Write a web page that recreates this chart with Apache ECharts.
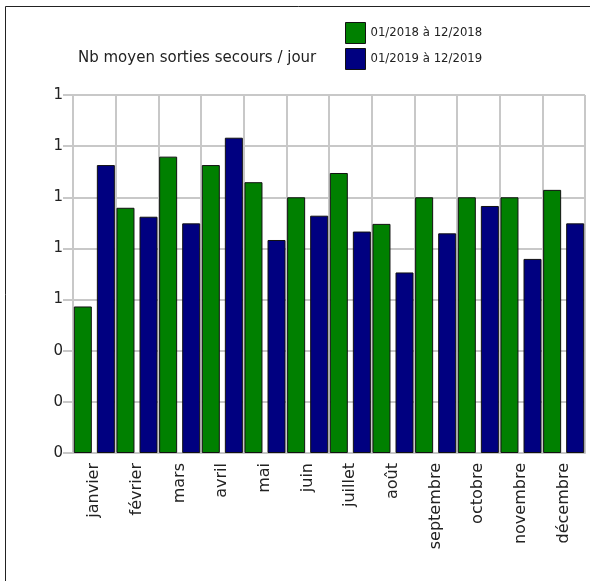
<!DOCTYPE html>
<html>
<head>
<meta charset="utf-8">
<script src="https://cdn.jsdelivr.net/npm/echarts@6/dist/echarts.min.js"></script>
<style>
  html, body { margin: 0; padding: 0; background: #fff; }
  #chart { width: 590px; height: 581px; }
</style>
</head>
<body>
<div id="chart"></div>
<script>
const months = ['janvier', 'février', 'mars', 'avril', 'mai', 'juin', 'juillet', 'août', 'septembre', 'octobre', 'novembre', 'décembre']
const serie2018 = [0.573, 0.959, 1.159, 1.126, 1.059, 1.0, 1.095, 0.896, 1.0, 1.0, 1.0, 1.029]
const serie2019 = [1.126, 0.924, 0.898, 1.233, 0.833, 0.928, 0.866, 0.706, 0.859, 0.966, 0.759, 0.898]
const legendNames = ['01/2018 à 12/2018', '01/2019 à 12/2019']
const yMin = 0
const yMax = 1.4
const yStep = 0.2

const gridGray = '#c8c8c8'
const font = 'DejaVu Sans'

const chart = echarts.init(document.getElementById('chart'))

const option = {
  animation: false,
  graphic: [
    {
      type: 'rect',
      shape: { x: 5.5, y: 6.5, width: 700, height: 700 },
      style: { fill: 'none', stroke: '#222', lineWidth: 1 },
      z: -10,
    },
  ],
  title: {
    text: 'Nb moyen sorties secours / jour',
    left: 73,
    top: 46,
    textStyle: { fontFamily: font, fontSize: 15, fontWeight: 'normal', color: '#222' },
  },
  legend: {
    orient: 'vertical',
    left: 340,
    top: 17,
    itemWidth: 20,
    itemHeight: 21,
    itemGap: 4,
    icon: 'rect',
    itemStyle: { borderColor: '#111', borderWidth: 1 },
    textStyle: { fontFamily: font, fontSize: 11.7, color: '#222' },
    data: legendNames,
  },
  grid: {
    left: 73,
    right: 5,
    top: 95,
    bottom: 128,
  },
  xAxis: {
    type: 'category',
    data: months,
    axisLine: { lineStyle: { color: gridGray, width: 2 } },
    axisTick: { length: 8, lineStyle: { color: gridGray, width: 2 } },
    splitLine: { show: true, lineStyle: { color: gridGray, width: 2 } },
    axisLabel: {
      rotate: 90,
      margin: 10,
      fontFamily: font,
      fontSize: 16,
      color: '#222',
    },
  },
  yAxis: {
    type: 'value',
    min: yMin,
    max: yMax,
    interval: yStep,
    axisLine: { show: true, lineStyle: { color: gridGray, width: 2 } },
    axisTick: { show: true, length: 10, lineStyle: { color: gridGray, width: 2 } },
    splitLine: { lineStyle: { color: gridGray, width: 2 } },
    axisLabel: {
      margin: 10,
      fontFamily: font,
      fontSize: 15,
      color: '#222',
      formatter: v => Math.round(v).toString(),
    },
  },
  series: [
    {
      name: legendNames[0],
      type: 'bar',
      data: serie2018,
      barWidth: 18,
      barGap: '28%',
      itemStyle: { color: '#008000', borderColor: '#111', borderWidth: 1 },
    },
    {
      name: legendNames[1],
      type: 'bar',
      data: serie2019,
      barWidth: 18,
      barGap: '28%',
      itemStyle: { color: '#000080', borderColor: '#111', borderWidth: 1 },
    },
  ],
}

chart.setOption(option)
</script>
</body>
</html>
